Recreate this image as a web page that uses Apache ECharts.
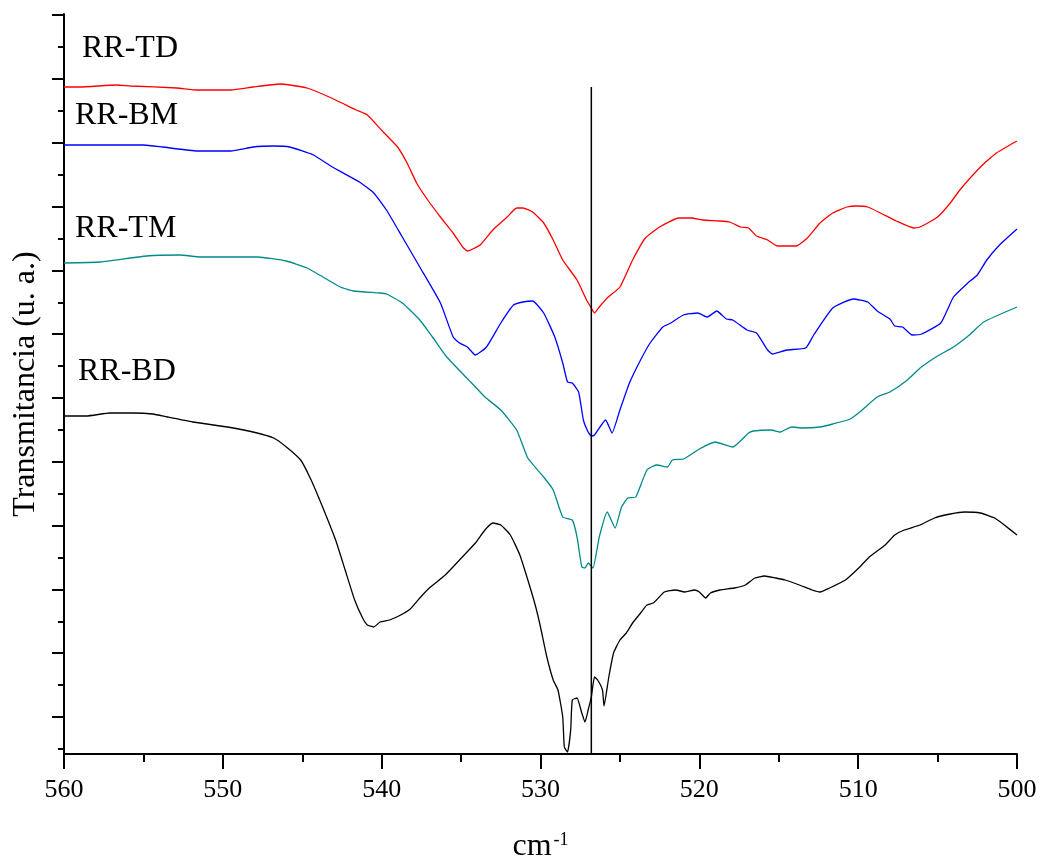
<!DOCTYPE html>
<html>
<head>
<meta charset="utf-8">
<script src="https://cdn.jsdelivr.net/npm/echarts@6/dist/echarts.min.js"></script>
<style>
html,body{margin:0;padding:0;background:#fff;}
#chart{width:1042px;height:863px;}
</style>
</head>
<body>
<div id="chart"></div>
<script>
// wavenumber (cm-1), transmitancia (u. a.)
var rrTD = [
  [560,667],[559,667],[556.7,669],[555.8,668],[552.9,666],[551.6,664],[549.5,664],[548.1,667],
  [546.4,670],[545.8,669],[544.7,666],[543.3,657],[541.6,644],[540.9,639],[539.9,622],[539.0,607],
  [538.4,591],[537.8,571],[537.1,554],[536.3,537],[535.5,521],[534.9,507],[534.6,503],[533.8,509],
  [533.0,524],[532.1,537],[531.5,546],[531.1,546],[530.5,542],[529.8,531],[529.2,514],[528.6,494],
  [527.7,474],[527.1,454],[526.8,446],[526.6,441],[526.3,447],[525.8,456],[525.0,467],[524.2,494],
  [523.4,516],[522.5,527],[521.3,536],[520.5,536],[519.8,534],[518.7,533],[518.1,532],[517.4,527],
  [516.9,526],[516.4,518],[515.7,514],[515.1,508],[513.9,508],[513.2,516],[512.4,531],[511.6,541],
  [510.7,547],[510.1,548],[509.4,547],[508.6,541],[507.6,533],[506.5,526],[506.1,527],[505.0,537],
  [504.2,551],[503.6,564],[502.3,587],[501.3,601],[500,613]
];
var rrBM = [
  [560,609],[555.0,609],[553.8,607],[551.6,603],[549.5,603],[548.1,607],[546.8,608],[545.8,607],
  [544.3,599],[543.1,587],[541.4,572],[540.5,561],[539.7,544],[538.7,517],[537.6,487],[536.3,451],
  [535.5,417],[535.1,411],[534.6,407],[534.1,399],[533.4,407],[532.5,431],[531.7,449],[531.1,452],
  [530.5,453],[529.8,441],[529.1,417],[528.6,391],[528.3,372],[528.0,371],[527.6,362],[527.3,334],
  [527.0,322],[526.8,318],[526.6,319],[525.9,334],[525.5,321],[525.0,344],[524.4,371],[523.7,394],
  [523.1,411],[522.3,427],[521.8,431],[521.0,439],[520.1,441],[519.5,437],[518.9,443],[518.3,435],
  [517.9,434],[517.0,424],[516.4,421],[515.7,404],[515.4,400],[514.5,404],[513.3,406],[512.8,419],
  [511.6,446],[510.3,455],[509.4,452],[508.8,443],[508.0,435],[507.7,428],[507.2,427],[506.6,419],
  [506.0,420],[504.8,431],[504.0,457],[503.1,471],[502.5,479],[501.9,494],[501.1,509],[500,525]
];
var rrTM = [
  [560,491],[557.7,492],[554.8,498],[552.7,499],[551.4,497],[547.8,497],[546.0,493],[544.7,486],
  [543.7,477],[542.6,467],[541.8,463],[540.1,461],[539.7,460],[538.7,451],[537.6,434],[536.8,417],
  [535.9,397],[534.4,372],[533.5,357],[532.5,344],[531.5,324],[530.8,296],[529.8,277],[529.2,264],
  [528.6,237],[528.0,234],[527.7,217],[527.4,187],[527.2,186],[527.0,191],[526.7,186],[526.3,217],
  [525.8,242],[525.3,226],[524.9,247],[524.5,256],[524.0,257],[523.3,284],[522.7,289],[522.0,287],
  [521.7,294],[521.0,295],[520.0,305],[519.0,312],[517.9,307],[516.9,321],[516.6,323],[515.5,324],
  [514.9,322],[514.2,327],[513.5,326],[512.4,327],[511.6,330],[510.5,335],[509.9,342],[508.8,357],
  [508.0,362],[506.9,374],[506.1,386],[505.0,398],[504.0,407],[503.0,419],[502.1,432],[500,447]
];
var rrBD = [
  [560,338],[558.6,338],[557.1,341],[555.7,341],[554.4,340],[553.5,337],[551.9,332],[549.7,327],
  [548.1,322],[546.8,316],[546.0,307],[545.1,294],[544.5,276],[543.9,254],[542.9,214],[542.3,184],
  [541.7,154],[541.2,136],[540.9,129],[540.5,127],[540.1,132],[539.5,134],[538.8,139],[538.2,145],
  [537.6,156],[537.0,166],[536.0,179],[535.1,194],[534.1,211],[533.5,224],[533.0,231],[532.5,229],
  [531.9,219],[531.3,199],[530.7,169],[530.3,147],[530.0,127],[529.6,97],[529.2,74],[528.9,64],
  [528.6,37],[528.5,7],[528.3,2],[528.1,24],[528.0,54],[527.7,56],[527.4,41],[527.2,32],
  [527.0,44],[526.8,57],[526.6,77],[526.4,74],[526.1,64],[526.0,48],[525.7,77],[525.4,101],
  [525.0,114],[524.6,121],[524.2,131],[523.7,141],[523.3,149],[522.9,151],[522.7,154],[522.2,162],
  [521.5,164],[520.9,162],[520.3,164],[520.0,162],[519.6,156],[519.3,161],[518.7,164],[517.8,166],
  [517.1,169],[516.5,176],[515.9,178],[515.2,176],[514.6,174],[513.7,169],[512.9,164],[512.4,162],
  [511.8,166],[510.8,174],[509.9,187],[509.3,197],[508.3,209],[507.7,219],[507.1,224],[506.1,229],
  [505.2,236],[504.2,240],[503.3,242],[502.3,241],[501.4,236],[500.8,229],[500,219]
];
var markerLine = [[526.8,0],[526.8,667]];
var yMajor = [37,100.8,164.6,228.4,292.2,356,419.8,483.6,547.4,611.2,675,738.8];
var yMinor = [5.1,68.9,132.7,196.5,260.3,324.1,387.9,451.7,515.5,579.3,643.1,706.9];
var seriesNames = ['RR-TD','RR-BM','RR-TM','RR-BD'];
var seriesColors = ['#ff0000','#0000ff','#008b8b','#000000'];

var FONT = "'Liberation Serif','Times New Roman',serif";
var chart = echarts.init(document.getElementById('chart'));

function lineSeries(name, data, color) {
  return {
    name: name, type: 'line', data: data, showSymbol: false, symbol: 'none',
    smooth: 0.15,
    lineStyle: {color: color, width: 1.3}, animation: false
  };
}

var option = {
  backgroundColor: '#fff',
  animation: false,
  grid: {left: 64, right: 25, top: 14, bottom: 109, containLabel: false, outerBoundsMode: 'none'},
  xAxis: {
    type: 'value', inverse: true, min: 500, max: 560, interval: 10,
    name: '{a|cm}{b|-1}', nameLocation: 'middle', nameGap: 77,
    nameTextStyle: {
      rich: {
        a: {fontFamily: FONT, fontSize: 32, color: '#000'},
        b: {fontFamily: FONT, fontSize: 18, color: '#000', verticalAlign: 'top', padding: [0, 0, 8, 2]}
      }
    },
    axisLine: {lineStyle: {color: '#000', width: 2}},
    axisTick: {length: 15, lineStyle: {color: '#000', width: 2}},
    minorTick: {show: true, splitNumber: 2, length: 8, lineStyle: {color: '#000', width: 2}},
    axisLabel: {fontFamily: FONT, fontSize: 26, color: '#000', margin: 23},
    splitLine: {show: false}
  },
  yAxis: [{
    type: 'value', min: 0, max: 740,
    name: 'Transmitancia (u. a.)', nameLocation: 'middle', nameGap: 22,
    nameTextStyle: {fontFamily: FONT, fontSize: 32, color: '#000'},
    axisLine: {show: true, lineStyle: {color: '#000', width: 2}},
    axisTick: {show: true, length: 12, customValues: yMajor, lineStyle: {color: '#000', width: 2}},
    axisLabel: {show: false},
    splitLine: {show: false}
  }, {
    type: 'value', min: 0, max: 740, position: 'left',
    axisLine: {show: false},
    axisTick: {show: true, length: 6, customValues: yMinor, lineStyle: {color: '#000', width: 2}},
    axisLabel: {show: false},
    splitLine: {show: false}
  }],
  graphic: [
    {type: 'text', left: 82, top: 33, style: {text: seriesNames[0], font: '32px ' + FONT, fill: '#000'}},
    {type: 'text', left: 75, top: 100, style: {text: seriesNames[1], font: '32px ' + FONT, fill: '#000'}},
    {type: 'text', left: 75, top: 213, style: {text: seriesNames[2], font: '32px ' + FONT, fill: '#000'}},
    {type: 'text', left: 78, top: 356, style: {text: seriesNames[3], font: '32px ' + FONT, fill: '#000'}}
  ],
  series: [
    lineSeries(seriesNames[0], rrTD, seriesColors[0]),
    lineSeries(seriesNames[1], rrBM, seriesColors[1]),
    lineSeries(seriesNames[2], rrTM, seriesColors[2]),
    lineSeries(seriesNames[3], rrBD, seriesColors[3]),
    {
      name: 'marker', type: 'line', data: markerLine, showSymbol: false, symbol: 'none',
      lineStyle: {color: '#000', width: 1.5}, animation: false
    }
  ]
};
chart.setOption(option);
</script>
</body>
</html>
